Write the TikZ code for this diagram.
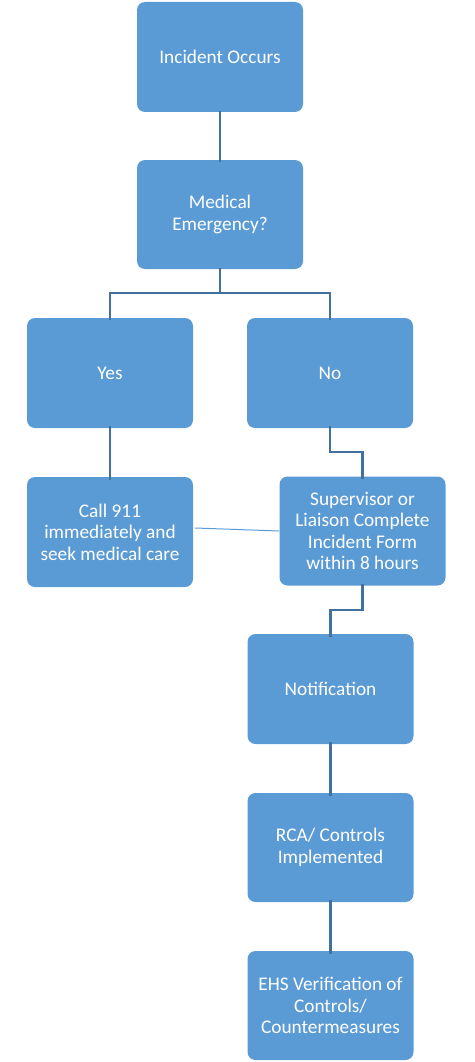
\documentclass[tikz,border=0pt]{standalone}
\usepackage{fontspec}
\setmainfont{Carlito}
\definecolor{boxblue}{HTML}{5B9BD5}
\definecolor{linkblue}{HTML}{41719C}
\begin{document}
\begin{tikzpicture}[x=1pt,y=-1pt,
  flowbox/.style={rectangle, rounded corners=8pt, fill=boxblue, draw=none,
    minimum width=166pt, minimum height=110pt, text=white, align=center,
    font=\fontsize{19.3}{21.5}\selectfont, inner sep=2pt},
  link/.style={draw=linkblue, line width=2.5pt},
  thinlink/.style={draw=boxblue, line width=1pt}]
\useasboundingbox (0,0) rectangle (474,1062);
\node[flowbox] (inc) at (220,57) {Incident Occurs};
\node[flowbox, minimum height=109pt] (med) at (220,214.5) {Medical\\Emergency?};
\node[flowbox] (yes) at (110,373) {Yes};
\node[flowbox] (no) at (330,373) {No};
\node[flowbox] (call) at (110,532) {Call 911\\immediately and\\seek medical care};
\node[flowbox, minimum height=109pt] (sup) at (362.5,531) {Supervisor or\\Liaison Complete\\Incident Form\\within 8 hours};
\node[flowbox] (notif) at (330.5,689) {Notification};
\node[flowbox, minimum height=109pt] (rca) at (330.5,847.5) {RCA/ Controls\\Implemented};
\node[flowbox, minimum height=109pt] (ehs) at (330.5,1005.5) {EHS Verification of\\Controls/\\Countermeasures};
\coordinate (split) at (220,293);
\coordinate (nobend) at (330,452);
\coordinate (supbend) at (362.5,610);
\draw[link] ([yshift=1pt]inc.south) -- ([yshift=-2pt]med.north);
\draw[link] ([yshift=1pt]med.south) -- (split);
\draw[link] (split) -| ([yshift=-2pt]yes.north);
\draw[link] (split) -| ([yshift=-2pt]no.north);
\draw[link] ([yshift=2pt]yes.south) -- ([yshift=-3pt]call.north);
\draw[link] ([yshift=2pt]no.south) -- (nobend) -| ([yshift=-3pt]sup.north);
\draw[link] ([yshift=2pt]sup.south) -- (supbend) -| ([yshift=-3pt]notif.north);
\draw[link] ([yshift=2pt]notif.south) -- ([yshift=-3pt]rca.north);
\draw[link] ([yshift=2pt]rca.south) -- ([yshift=-3pt]ehs.north);
\draw[thinlink] ([xshift=2pt,yshift=4pt]call.east) -- (sup.west);
\end{tikzpicture}
\end{document}
